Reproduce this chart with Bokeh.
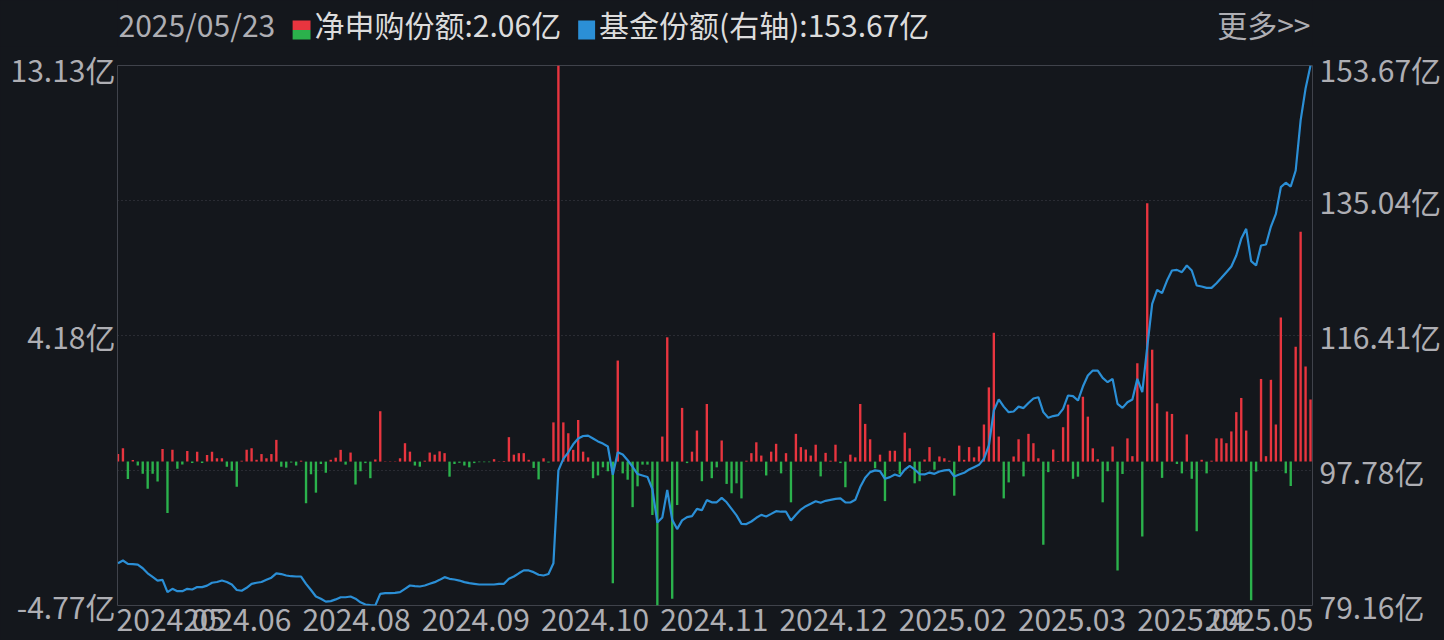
import numpy as np
from bokeh.plotting import figure
from bokeh.models import Range1d, LinearAxis, FixedTicker, ColumnDataSource
from bokeh.layouts import column
from bokeh.embed import file_html
from bokeh.resources import INLINE
from bokeh.core.properties import value

# ---------------- data ----------------
last_date = "2025/05/23"
net_name = "净申购份额"
share_name = "基金份额(右轴)"
more_text = "更多>>"

x_labels = ["2024.05", "2024.06", "2024.08", "2024.09", "2024.10", "2024.11",
            "2024.12", "2025.02", "2025.03", "2025.04", "2025.05"]

# daily net subscription (亿份)
net_sub = [
    0.25, 0.44, -0.58, 0.05, -0.13, -0.40, -0.90, -0.40, -0.66, 0.42,
    -1.70, 0.39, -0.24, -0.10, 0.35, -0.05, 0.33, -0.05, 0.22, 0.33,
    0.11, 0.11, -0.17, -0.30, -0.83, 0.03, 0.39, 0.44, 0.06, 0.25,
    0.11, 0.25, 0.72, -0.17, -0.20, -0.03, -0.13, 0.03, -1.38, -0.42,
    -1.03, -0.08, -0.37, 0.06, 0.13, 0.39, -0.10, 0.30, -0.76, -0.32,
    -0.05, -0.55, 0.07, 1.67, 0.01, 0.01, 0.01, 0.11, 0.61, 0.33,
    -0.13, -0.17, 0.03, 0.30, 0.23, 0.34, 0.28, -0.50, -0.08, -0.04,
    -0.13, -0.19, -0.05, -0.02, -0.02, -0.02, 0.08, 0.01, 0.02, 0.81,
    0.23, 0.28, 0.28, 0.06, -0.21, -0.59, 0.11, -0.03, 1.30, 13.13,
    1.30, 0.94, 0.39, 1.38, 0.33, 0.14, -0.55, -0.46, -0.19, -0.32,
    -4.03, 3.35, -0.39, -0.60, -1.51, -0.82, -0.10, -0.10, -1.77, -4.77,
    0.83, 4.12, -4.55, -1.44, 1.78, -0.05, 0.33, 1.03, -0.65, 1.91,
    -0.55, -0.19, 0.70, -0.74, -1.05, -0.72, -1.22, 0.03, 0.28, 0.64,
    0.20, -0.46, 0.33, 0.59, -0.39, 0.28, -1.35, 0.92, 0.48, 0.40,
    0.20, 0.56, -0.49, 0.29, 0.03, 0.56, -0.05, -0.85, 0.23, 0.14,
    1.91, 1.25, 0.74, -0.22, 0.23, -1.31, 0.36, 0.36, -0.41, 0.96,
    0.44, -0.72, -0.65, 0.07, 0.48, -0.27, 0.17, 0.11, 0.03, -1.13,
    0.53, 0.06, 0.48, 0.14, 0.50, 1.23, 2.46, 4.27, 0.83, -1.22,
    -0.69, 0.17, 0.74, -0.49, 0.92, 0.61, 0.11, -2.76, -0.35, 0.40,
    0.02, 1.14, 1.89, -0.57, -0.50, 2.15, 1.49, 0.44, 0.08, -1.35,
    -0.32, 0.50, -3.61, -0.41, 0.77, 0.18, 3.26, -2.48, 8.56, 3.71,
    1.93, -0.54, 1.66, 1.58, -0.08, -0.39, 0.90, -0.57, -2.31, 0.06,
    -0.39, 0.03, 0.77, 0.77, 0.61, 1.00, 1.64, 2.11, 1.03, -4.60,
    -0.33, 2.74, 0.18, 2.71, 1.23, 4.78, -0.39, -0.81, 3.81, 7.62,
    3.15, 2.06,
]

# fund shares (亿份, right axis)
fund_share = [
    85.00, 85.37, 84.90, 84.86, 84.80, 84.30, 83.60, 83.10, 82.60, 82.70,
    81.00, 81.46, 81.14, 81.14, 81.46, 81.37, 81.70, 81.70, 81.90, 82.30,
    82.40, 82.60, 82.40, 82.06, 81.30, 81.20, 81.60, 82.15, 82.30, 82.40,
    82.70, 83.00, 83.60, 83.50, 83.30, 83.20, 83.16, 83.16, 82.15, 81.30,
    80.40, 80.10, 79.70, 79.76, 80.00, 80.30, 80.30, 80.40, 80.10, 79.60,
    79.30, 79.20, 79.16, 80.77, 80.86, 80.86, 80.90, 81.00, 81.46, 81.92,
    81.83, 81.78, 81.92, 82.15, 82.38, 82.70, 83.07, 82.84, 82.75, 82.60,
    82.38, 82.24, 82.15, 82.06, 82.06, 82.06, 82.06, 82.15, 82.15, 82.84,
    83.16, 83.60, 84.00, 84.00, 83.76, 83.40, 83.30, 83.50, 85.00, 97.80,
    99.40, 100.30, 101.40, 102.20, 102.55, 102.60, 102.20, 101.80, 101.50, 101.10,
    97.20, 100.30, 100.00, 99.20, 98.30, 97.30, 97.10, 96.90, 95.20, 90.60,
    91.30, 95.10, 91.00, 89.70, 90.90, 91.35, 91.50, 92.50, 92.30, 93.70,
    93.40, 93.40, 94.00, 93.40, 92.50, 91.60, 90.43, 90.40, 90.75, 91.26,
    91.67, 91.45, 91.80, 92.17, 92.10, 92.10, 90.90, 91.67, 92.40, 92.86,
    93.20, 93.55, 93.33, 93.60, 93.74, 93.88, 93.93, 93.40, 93.37, 93.74,
    95.50, 96.78, 97.56, 97.80, 97.70, 96.64, 96.87, 97.24, 97.00, 97.90,
    98.43, 97.93, 97.30, 97.24, 97.50, 97.33, 97.65, 97.80, 97.88, 96.96,
    97.24, 97.47, 97.93, 98.25, 98.57, 99.40, 101.24, 106.07, 107.60, 106.60,
    105.84, 105.93, 106.60, 106.40, 107.10, 107.73, 107.90, 105.84, 105.06, 105.30,
    105.43, 106.30, 108.14, 108.04, 107.44, 109.37, 110.90, 111.58, 111.58, 110.57,
    109.97, 110.43, 106.98, 106.43, 107.20, 107.58, 110.43, 108.60, 114.80, 120.78,
    122.71, 122.25, 124.00, 125.38, 125.47, 125.15, 126.07, 125.38, 123.31, 123.17,
    122.99, 122.99, 123.63, 124.37, 125.15, 125.93, 127.45, 129.75, 131.13, 126.67,
    126.07, 128.83, 128.97, 131.45, 133.20, 136.88, 137.50, 136.97, 139.18, 146.10,
    150.50, 153.67,
]

left_min, left_max = -4.77, 13.13
right_min, right_max = 79.16, 153.67
left_tick_labels = ["-4.77亿", "4.18亿", "13.13亿"]
right_tick_labels = ["79.16亿", "97.78亿", "116.41亿", "135.04亿", "153.67亿"]

# ---------------- styling ----------------
BG = "#14171c"
RED = "#e8353f"
GREEN = "#2bb24c"
BLUE = "#2b8fd6"
GRID = "#40434b"
TXT = "#aeaeb3"
TXT_HI = "#dcdcdc"
FONT = "Noto Sans CJK SC"
FS = "30px"

W = 1444
HEAD_H = 46
MAIN_H = 640 - HEAD_H
FRAME_L, FRAME_R = 117, 1318   # page pixels of the plot frame
FRAME_T, FRAME_B = 65, 605

n = len(net_sub)
xs = list(range(n))

# ---------------- header (its frame is aligned with the chart frame) ----------------
h = figure(width=W, height=HEAD_H, x_range=Range1d(FRAME_L, FRAME_R), y_range=Range1d(HEAD_H, 0),
           toolbar_location=None, output_backend="svg", min_border=0)
h.axis.visible = False
h.grid.visible = False
h.outline_line_color = None
h.background_fill_color = BG
h.border_fill_color = BG

TY = 23  # text box centre (page px from top)
h.quad(left=[293], right=[311], top=[20], bottom=[29.5], fill_color=RED, line_color=None)
h.quad(left=[293], right=[311], top=[29.5], bottom=[39], fill_color=GREEN, line_color=None)
h.quad(left=[580], right=[597], top=[20], bottom=[39], fill_color=BLUE, line_color=None)

h.text(x=[118], y=[TY], text=[last_date], text_color=TXT, text_font=value(FONT),
       text_font_size=FS, text_baseline="middle", text_align="left")
h.text(x=[315], y=[TY], text=[f"{net_name}:{net_sub[-1]:.2f}亿"], text_color=TXT_HI,
       text_font=value(FONT), text_font_size=FS, text_baseline="middle", text_align="left")
h.text(x=[601], y=[TY], text=[f"{share_name}:{fund_share[-1]:.2f}亿"], text_color=TXT_HI,
       text_font=value(FONT), text_font_size=FS, text_baseline="middle", text_align="left")
h.text(x=[1316], y=[TY], text=[more_text], text_color=TXT, text_font=value(FONT),
       text_font_size=FS, text_baseline="middle", text_align="right")

# ---------------- main chart ----------------
x0, x1 = -0.1, n - 0.6
p = figure(width=W, height=MAIN_H, x_range=Range1d(x0, x1),
           y_range=Range1d(left_min, left_max),
           toolbar_location=None, output_backend="svg",
           min_border_left=FRAME_L, min_border_right=W - FRAME_R,
           min_border_top=FRAME_T - HEAD_H, min_border_bottom=640 - FRAME_B)
p.background_fill_color = BG
p.border_fill_color = BG
p.outline_line_color = GRID
p.outline_line_width = 1
p.extra_y_ranges = {"share": Range1d(right_min, right_max)}

colors = [RED if v >= 0 else GREEN for v in net_sub]
src = ColumnDataSource(dict(x=xs, top=net_sub, color=colors))
p.vbar(x="x", top="top", bottom=0, width=0.48, source=src,
       fill_color="color", line_color=None)
p.line(xs, fund_share, y_range_name="share", line_color=BLUE, line_width=2.2)

# left axis
lt = [left_min, round((left_min + left_max) / 2, 4), left_max]
p.yaxis.ticker = FixedTicker(ticks=lt)
p.yaxis.major_label_overrides = dict(zip(lt, left_tick_labels))

# right axis
rt = [round(v, 4) for v in np.linspace(right_min, right_max, 5)]
ra = LinearAxis(y_range_name="share", ticker=FixedTicker(ticks=rt))
ra.major_label_overrides = dict(zip(rt, right_tick_labels))
p.add_layout(ra, "right")

# x axis: labels spread evenly, first left-aligned, last right-aligned
px_per_unit = (FRAME_R - FRAME_L) / (x1 - x0)
half_w = 53.5 / px_per_unit
step = (n - 1) / 10
xt = [round(x0 + half_w, 3)] + [round(step * k, 3) for k in range(1, 10)] + [round(x1 - half_w, 3)]
p.xaxis.ticker = FixedTicker(ticks=xt)
p.xaxis.major_label_overrides = dict(zip(xt, x_labels))

for ax in p.xaxis + p.yaxis:
    ax.axis_line_color = None
    ax.major_tick_line_color = None
    ax.minor_tick_line_color = None
    ax.major_tick_out = 0
    ax.major_tick_in = 0
    ax.major_label_text_color = TXT
    ax.major_label_text_font = FONT
    ax.major_label_text_font_size = FS
p.yaxis[0].major_label_standoff = 2
ra.major_label_standoff = 7
p.xaxis.major_label_standoff = 3

# grid: dotted at the three inner levels
gt = [round(v, 4) for v in np.linspace(left_min, left_max, 5)[1:4]]
p.xgrid.visible = False
p.ygrid.ticker = FixedTicker(ticks=gt)
p.ygrid.grid_line_color = GRID
p.ygrid.grid_line_dash = "1 3"
p.ygrid.grid_line_width = 1

layout = column(h, p, spacing=0)
layout.styles = {"background-color": BG}
open("out.html", "w").write(file_html(layout, INLINE))
